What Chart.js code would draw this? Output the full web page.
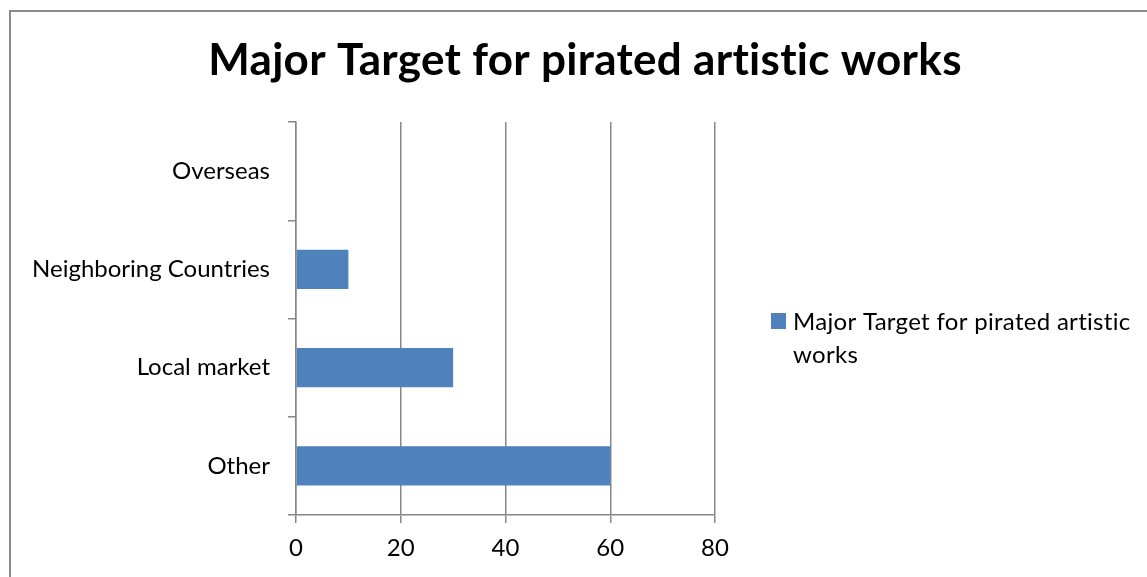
<!DOCTYPE html>
<html>
<head>
<meta charset="utf-8">
<script src="https://cdn.jsdelivr.net/npm/chart.js@4"></script>
<style>
  html, body { margin: 0; padding: 0; background: #fff; }
</style>
</head>
<body>
<canvas id="myChart" width="1147" height="577"></canvas>
<script>
const chartTitle = 'Major Target for pirated artistic works';
const seriesLabel = 'Major Target for pirated artistic works';
const categories = ['Overseas', 'Neighboring Countries', 'Local market', 'Other'];
const targetValues = [0, 10, 30, 60];
const xTickValues = [0, 20, 40, 60, 80];

const FONT = 'Lato, "Noto Sans", sans-serif';
const GRID = '#878787';
const BAR = '#4F81BD';

// frame, title and a wrapped legend on the right
const decorations = {
  id: 'decorations',
  beforeDraw(chart) {
    const c = chart.ctx;
    c.save();
    c.fillStyle = '#fff';
    c.fillRect(0, 0, chart.width, chart.height);
    c.strokeStyle = '#8a8a8a';
    c.lineWidth = 2;
    c.beginPath();
    c.moveTo(10, chart.height);
    c.lineTo(10, 11);
    c.lineTo(chart.width, 11);
    c.stroke();
    c.restore();
  },
  afterDraw(chart) {
    const c = chart.ctx;
    c.save();
    c.letterSpacing = '0.3px'; // also keeps the "ti" ligature off
    c.fillStyle = '#000';
    c.textBaseline = 'alphabetic';
    c.textAlign = 'center';
    c.font = 'bold 44px ' + FONT;
    c.fillText(chartTitle, 585, 75);

    const ds = chart.data.datasets[0];
    c.fillStyle = ds.backgroundColor;
    c.fillRect(771, 313, 15, 16);
    c.fillStyle = '#000';
    c.textAlign = 'left';
    c.font = '24px ' + FONT;
    // wrap the legend text to the space right of the plot
    const maxW = chart.width - 793 - 6;
    const words = ds.label.split(' ');
    const lines = [];
    let line = '';
    for (const w of words) {
      const t = line ? line + ' ' + w : w;
      if (c.measureText(t).width > maxW && line) { lines.push(line); line = w; }
      else line = t;
    }
    lines.push(line);
    lines.forEach((l, i) => c.fillText(l, 793, 330 + i * 33));
    c.restore();
  }
};

new Chart(document.getElementById('myChart').getContext('2d'), {
  type: 'bar',
  data: {
    labels: categories,
    datasets: [{
      label: seriesLabel,
      data: targetValues,
      backgroundColor: BAR,
      barPercentage: 0.4,
      categoryPercentage: 1.0
    }]
  },
  options: {
    indexAxis: 'y',
    responsive: false,
    animation: false,
    layout: { padding: { top: 122, right: 432, bottom: 0, left: 0 } },
    plugins: {
      legend: { display: false },
      title: { display: false },
      tooltip: { enabled: false }
    },
    scales: {
      x: {
        min: 0,
        max: 80,
        afterBuildTicks(scale) { scale.ticks = xTickValues.map(v => ({ value: v })); },
        afterFit(scale) { scale.height = 62; },
        ticks: { color: '#000', padding: 11, font: { family: FONT, size: 24 } },
        grid: { color: GRID, lineWidth: 1.5, tickLength: 8 },
        border: { color: GRID, width: 1.5 }
      },
      y: {
        afterFit(scale) { scale.width = 296; },
        ticks: { color: '#000', padding: 18, font: { family: FONT, size: 24 } },
        grid: { color: GRID, lineWidth: 1.5, tickLength: 8, drawOnChartArea: false },
        border: { color: GRID, width: 1.5 }
      }
    }
  },
  plugins: [decorations]
});
</script>
</body>
</html>
